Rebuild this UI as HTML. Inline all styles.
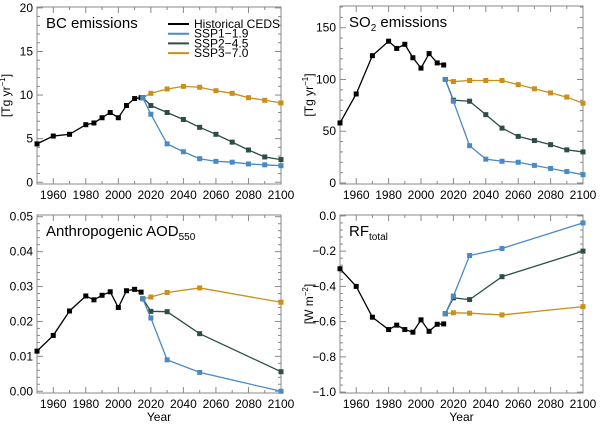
<!DOCTYPE html>
<html><head><meta charset="utf-8"><style>
body{margin:0;background:#fff}
svg{font-family:"Liberation Sans",sans-serif}
</style></head><body>
<svg id="c" width="600" height="423" viewBox="0 0 600 423" xmlns="http://www.w3.org/2000/svg"></svg>
<script>
const histYears=[1950,1960,1970,1980,1985,1990,1995,2000,2005,2010,2014];
const sspYearsFull=[2015,2020,2030,2040,2050,2060,2070,2080,2090,2100];
const sspYearsShort=[2015,2020,2030,2050,2100];
const bcHist=[4.4,5.3,5.5,6.6,6.8,7.4,8.0,7.4,8.8,9.6,9.7];
const bcSsp1=[9.7,7.8,4.4,3.5,2.7,2.4,2.3,2.1,2.0,1.9];
const bcSsp2=[9.7,8.8,8.0,7.2,6.3,5.5,4.6,3.7,2.9,2.6];
const bcSsp3=[9.7,10.2,10.7,11.0,10.9,10.5,10.2,9.7,9.4,9.1];
const so2Hist=[58,86,123,137,130,134,121,111,125,116,114];
const so2Ssp1=[100,79,36,23,21,20,17,14,11,8];
const so2Ssp2=[100,80,79,66,53,45,41,37,32,30];
const so2Ssp3=[100,98,99,99,99,95,91,87,83,77];
const aodHist=[0.0115,0.016,0.023,0.0273,0.0262,0.0275,0.0285,0.024,0.0288,0.0292,0.0284];
const aodSsp1=[0.0265,0.021,0.009,0.0054,0.0];
const aodSsp2=[0.0265,0.0229,0.0228,0.0165,0.0056];
const aodSsp3=[0.0265,0.027,0.0283,0.0296,0.0255];
const rfHist=[-0.30,-0.40,-0.575,-0.645,-0.62,-0.645,-0.66,-0.59,-0.655,-0.615,-0.613];
const rfSsp1=[-0.555,-0.455,-0.225,-0.185,-0.04];
const rfSsp2=[-0.555,-0.465,-0.475,-0.345,-0.20];
const rfSsp3=[-0.555,-0.55,-0.552,-0.562,-0.515];
const xTicks=[1960,1980,2000,2020,2040,2060,2080,2100];
const bcTicks=[0,5,10,15,20];
const so2Ticks=[0,50,100,150];
const aodTicks=[0,0.01,0.02,0.03,0.04,0.05];
const rfTicks=[-1.0,-0.8,-0.6,-0.4,-0.2,0.0];
const legendLabels=["Historical CEDS","SSP1\u22121.9","SSP2\u22124.5","SSP3\u22127.0"];

const C={h:"#000",s1:"#4a8ac4",s2:"#2d4d48",s3:"#c8901a"};
const NS="http://www.w3.org/2000/svg";
const svg=document.getElementById('c');
function el(t,a,p){const e=document.createElementNS(NS,t);for(const k in a)e.setAttribute(k,a[k]);(p||svg).appendChild(e);return e;}

function panel(o){
  const g=el('g',{});
  
  
  const sx=v=>o.x0+(v-1950)/150*(o.x1-o.x0);
  const sy=v=>o.yb+(v-o.ymin)/(o.ymax-o.ymin)*(o.yt-o.yb);
  const fr=el('rect',{x:o.x0,y:o.yt,width:o.x1-o.x0,height:o.yb-o.yt,fill:'none',stroke:'#888','stroke-width':1},g);
  
  for(let yr=1950;yr<=2100;yr+=10){
    const len=xTicks.includes(yr)?6:3;
    el('line',{x1:sx(yr),x2:sx(yr),y1:o.yb,y2:o.yb-len,stroke:'#888'},g);
    el('line',{x1:sx(yr),x2:sx(yr),y1:o.yt,y2:o.yt+len,stroke:'#888'},g);
  }
  xTicks.forEach(t=>{const tx=el('text',{x:sx(t),y:o.yb+15,'text-anchor':'middle','font-size':12},g);tx.textContent=t;
    });
  const step=o.ticks[1]-o.ticks[0];
  for(let i=0;i<o.ticks.length;i++){
    const t=o.ticks[i];
    el('line',{x1:o.x0,x2:o.x0+6,y1:sy(t),y2:sy(t),stroke:'#888'},g);
    el('line',{x1:o.x1,x2:o.x1-6,y1:sy(t),y2:sy(t),stroke:'#888'},g);
    for(let m=1;m<5;m++){const v=t+m*step/5;if(v>o.ymax+1e-9)break;
      el('line',{x1:o.x0,x2:o.x0+3,y1:sy(v),y2:sy(v),stroke:'#888'},g);
      el('line',{x1:o.x1,x2:o.x1-3,y1:sy(v),y2:sy(v),stroke:'#888'},g);}
    const tx=el('text',{x:o.x0-4,y:sy(t)+4,'text-anchor':'end','font-size':12},g);
    tx.textContent=o.fmt(t);
    
  }
  function series(xs,ys,col,name){
    const sg=el('g',{},g);
    
    el('polyline',{points:xs.map((x,i)=>sx(x)+','+sy(ys[i])).join(' '),fill:'none',stroke:col,'stroke-width':1.3},sg);
    xs.forEach((x,i)=>{const r=el('rect',{x:sx(x)-2.5,y:sy(ys[i])-2.5,width:5,height:5,fill:col},sg);
      });
  }
  series(histYears,o.h,C.h,'historical-ceds-series');
  series(o.sx,o.s3,C.s3,'ssp3-series');
  series(o.sx,o.s2,C.s2,'ssp2-series');
  series(o.sx,o.s1,C.s1,'ssp1-series');
  const ti=el('text',{x:o.x0+9,y:o.yt+21,'font-size':15},g);
  ti.innerHTML=o.title;
  
  if(o.ylab){const yl=el('text',{x:0,y:0,'font-size':12,'text-anchor':'middle',transform:`translate(${o.x0-27},${(o.yt+o.yb)/2}) rotate(-90)`},g);
    yl.innerHTML=o.ylab;}
  if(o.xlab){const xl=el('text',{x:(o.x0+o.x1)/2,y:o.yb+28,'font-size':12,'text-anchor':'middle'},g);
    xl.textContent='Year';}
  return g;
}
panel({name:'bc-emissions-panel',x0:37,x1:281,yt:7,yb:184,ymin:-0.2,ymax:20.1,ticks:bcTicks,fmt:v=>v,h:bcHist,sx:sspYearsFull,s1:bcSsp1,s2:bcSsp2,s3:bcSsp3,title:'BC emissions',ylab:'[Tg yr<tspan font-size="8" dy="-5">−1</tspan><tspan dy="5">]</tspan>'});
panel({name:'so2-emissions-panel',x0:340,x1:583,yt:6,yb:184,ymin:-1,ymax:171,ticks:so2Ticks,fmt:v=>v,h:so2Hist,sx:sspYearsFull,s1:so2Ssp1,s2:so2Ssp2,s3:so2Ssp3,title:'SO<tspan font-size="10" dy="4">2</tspan><tspan dy="-4"> emissions</tspan>',ylab:'[Tg yr<tspan font-size="8" dy="-5">−1</tspan><tspan dy="5">]</tspan>'});
panel({name:'aod-panel',x0:37,x1:281,yt:215,yb:393,ymin:-0.0005,ymax:0.0505,ticks:aodTicks,fmt:v=>v.toFixed(2),h:aodHist,sx:sspYearsShort,s1:aodSsp1,s2:aodSsp2,s3:aodSsp3,title:'Anthropogenic AOD<tspan font-size="10" dy="4">550</tspan>',xlab:true});
panel({name:'rf-total-panel',x0:340,x1:583,yt:215,yb:393,ymin:-1.005,ymax:0.005,ticks:rfTicks,fmt:v=>v===0?'0.0':(v<0?'\u2212':'')+Math.abs(v).toFixed(1),h:rfHist,sx:sspYearsShort,s1:rfSsp1,s2:rfSsp2,s3:rfSsp3,title:'RF<tspan font-size="10" dy="4">total</tspan>',ylab:'[W m<tspan font-size="8" dy="-5">−2</tspan><tspan dy="5">]</tspan>',xlab:true});

const lg=el('g',{});

const lc=[C.h,C.s1,C.s2,C.s3];
legendLabels.forEach((t,i)=>{const y=24+i*9.7;
  const e=el('g',{},lg);
  
  el('line',{x1:168,x2:189,y1:y,y2:y,stroke:lc[i],'stroke-width':2},e);
  const tx=el('text',{x:194,y:y+4,'font-size':12},e);tx.textContent=t;});
</script>
</body></html>
